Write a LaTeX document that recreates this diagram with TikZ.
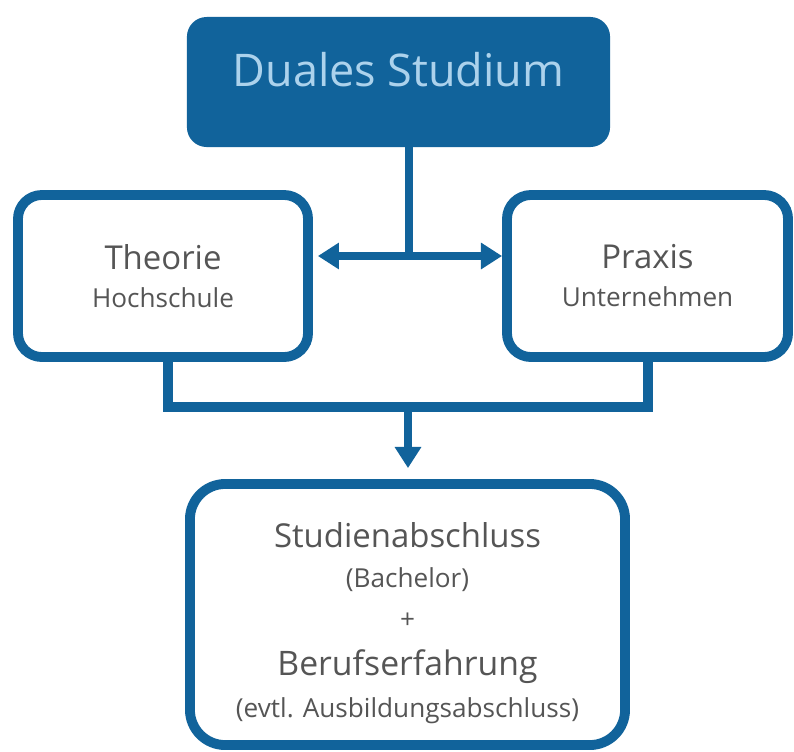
\documentclass[tikz,border=0pt]{standalone}
\usepackage{fontspec}
\setmainfont{Open Sans}
\usetikzlibrary{arrows.meta}
\definecolor{dualblue}{RGB}{17,99,155}
\definecolor{titletext}{RGB}{172,210,236}
\definecolor{boxtext}{RGB}{85,85,85}

\begin{document}
\begin{tikzpicture}[x=0.025cm,y=-0.025cm,
    >={Triangle[length=15pt,width=18pt]},
    box/.style={draw=dualblue,line width=7pt,fill=white,text=boxtext,align=center},
    link/.style={draw=dualblue,line width=7pt},
    arrow/.style={draw=dualblue,line width=5.7pt}]
      % \draw[help lines](0,0) grid (794,751);
      \useasboundingbox (0,0) rectangle (794,751);

      \draw (398.5,82) node [fill=dualblue,rounded corners=14pt,minimum width=10.575cm,minimum height=3.25cm,text=titletext,font=\fontsize{32}{38}\selectfont,text height=20pt,text depth=13pt] (studium) {Duales Studium};
      \draw (163,276) node [box,rounded corners=17pt,minimum width=7.25cm,minimum height=4.05cm,font=\fontsize{18.6}{27}\selectfont] (theorie) {{\fontsize{23.4}{27}\selectfont Theorie}\\Hochschule};
      \draw (647.5,276) node [box,rounded corners=17pt,minimum width=7.025cm,minimum height=4.05cm,font=\fontsize{18.6}{27}\selectfont] (praxis) {{\fontsize{23.4}{27}\selectfont Praxis}\\Unternehmen};
      \draw (407.5,614.5) node [box,rounded corners=25pt,minimum width=10.875cm,minimum height=6.525cm,font=\fontsize{18.6}{28.3}\selectfont] (abschluss) {\rule{0pt}{30pt}{\fontsize{23.4}{28.3}\selectfont Studienabschluss}\\(Bachelor)\\[0.7pt]+\\[5pt]{\fontsize{24}{28.3}\selectfont Berufserfahrung}\\[1.5pt](evtl. Ausbildungsabschluss)};

      \coordinate (split) at (409,256);
      \coordinate (jl) at (168,407);
      \coordinate (jm) at (408,407);
      \coordinate (jr) at (648,407);

      \draw [arrow] (studium.south -| split) -- (split);
      \draw [arrow,<->,shorten <=3.5pt] (theorie.east |- split) -- (praxis.west |- split);
      \draw [link] (theorie.south -| jl) -- (jl) -- (jr) -- (praxis.south -| jr);
      \draw [arrow,->,shorten >=7.8pt] (jm) -- (jm |- abschluss.north);
\end{tikzpicture}
\end{document}
